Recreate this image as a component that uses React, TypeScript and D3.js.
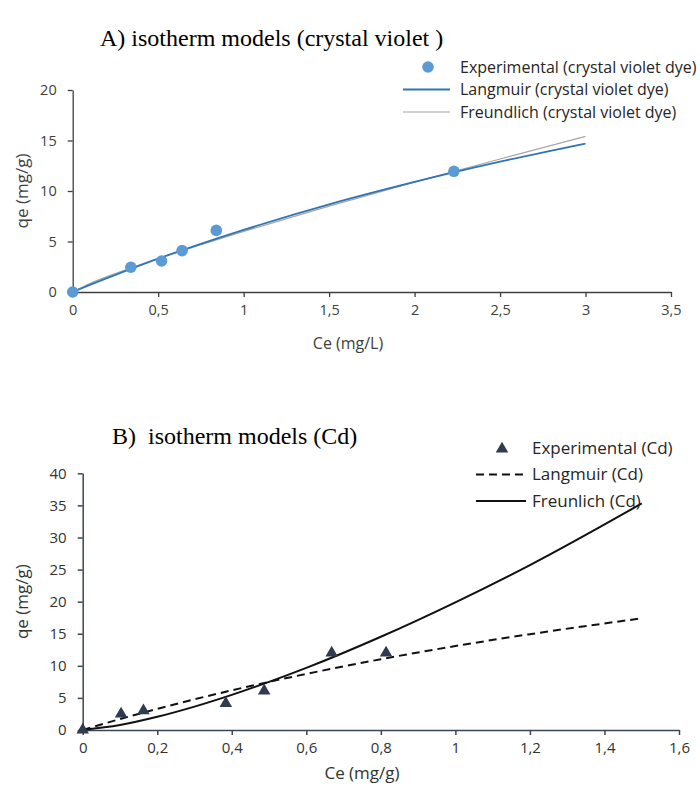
import React, { useEffect, useRef } from "react";
import * as d3 from "d3";

// A) crystal violet - experimental points
const ceA = [0, 0.34, 0.52, 0.64, 0.84, 2.23];
const qeA = [0, 2.45, 3.07, 4.1, 6.1, 11.95];
// A) model curves
const fitCeA = [0, 0.1, 0.25, 0.5, 0.75, 1, 1.5, 2, 2.5, 3];
const langmuirA = [0, 0.7, 1.7, 3.3, 4.77, 6.15, 8.68, 10.9, 12.9, 14.7];
const freundlichA = [0, 0.83, 1.83, 3.31, 4.69, 6.0, 8.5, 10.88, 13.17, 15.4];

// B) Cd - experimental points
const ceB = [0, 0.103, 0.163, 0.384, 0.487, 0.668, 0.814];
const qeB = [0, 2.5, 3.0, 4.15, 6.1, 12.0, 12.0];
// B) model curves
const fitCeB = [0, 0.1, 0.2, 0.3, 0.4, 0.5, 0.6, 0.8, 1.0, 1.2, 1.5];
const langmuirB = [0, 1.7, 3.29, 4.78, 6.18, 7.5, 8.74, 11.03, 13.08, 14.93, 17.4];
const freundlichB = [0, 0.77, 2.05, 3.64, 5.47, 7.5, 9.68, 14.53, 19.9, 25.7, 35.3];

const xTicksA = [0, 0.5, 1, 1.5, 2, 2.5, 3, 3.5];
const yTicksA = [0, 5, 10, 15, 20];
const xTicksB = [0, 0.2, 0.4, 0.6, 0.8, 1, 1.2, 1.4, 1.6];
const yTicksB = [0, 5, 10, 15, 20, 25, 30, 35, 40];

const legendA = ["Experimental  (crystal violet dye)", "Langmuir (crystal violet dye)", "Freundlich (crystal violet dye)"];
const legendB = ["Experimental (Cd)", "Langmuir (Cd)", "Freunlich (Cd)"];

const sans = "'Open Sans', 'Noto Sans', sans-serif";
const serif = "'Liberation Serif', 'Times New Roman', serif";
const comma = (d: number) => String(d).replace(".", ",");

export default function App() {
  const ref = useRef<SVGSVGElement>(null);

  useEffect(() => {
    const svg = d3.select(ref.current);
    svg.selectAll("*").remove();

    // ---------- chart A ----------
    const xA = d3.scaleLinear().domain([0, 3.5]).range([72.7, 671]);
    const yA = d3.scaleLinear().domain([0, 20]).range([292, 90]);
    const axColA = "#404040";

    svg.append("text")
      .attr("x", 100).attr("y", 46)
      .attr("font-family", serif).attr("font-size", 24)
      .attr("xml:space", "preserve").style("white-space", "pre")
      .text("A) isotherm models (crystal violet )");

    const gxA = svg.append("g").attr("transform", `translate(0,${yA(0)})`)
      .call(d3.axisBottom(xA).tickValues(xTicksA).tickFormat(comma).tickSize(5).tickSizeOuter(0).tickPadding(8));
    const gyA = svg.append("g").attr("transform", `translate(${xA(0)},0)`)
      .call(d3.axisLeft(yA).tickValues(yTicksA).tickSize(5).tickSizeOuter(0).tickPadding(11));
    [gxA, gyA].forEach(g => {
      g.selectAll("path,line").attr("stroke", axColA).attr("stroke-width", 1.3);
      g.selectAll("text").attr("font-family", sans).attr("font-size", 14.5).attr("fill", axColA);
    });

    svg.append("text")
      .attr("x", 348).attr("y", 349)
      .attr("text-anchor", "middle").attr("font-family", sans).attr("font-size", 16).attr("fill", axColA)
      .text("Ce (mg/L)");
    svg.append("text")
      .attr("transform", `translate(28,${(yA(0) + yA(20)) / 2}) rotate(-90)`)
      .attr("text-anchor", "middle").attr("font-family", sans).attr("font-size", 17).attr("fill", axColA)
      .text("qe (mg/g)");

    const lineA = (vals: number[]) =>
      d3.line<number>().x((d, i) => xA(fitCeA[i])).y(d => yA(d)).curve(d3.curveMonotoneX)(vals);

    svg.append("path").attr("d", lineA(freundlichA)).attr("fill", "none")
      .attr("stroke", "#a5a5a5").attr("stroke-width", 1.2);
    svg.append("path").attr("d", lineA(langmuirA)).attr("fill", "none")
      .attr("stroke", "#2e75b6").attr("stroke-width", 1.8);

    svg.append("g").selectAll("circle").data(ceA).enter().append("circle")
      .attr("cx", d => xA(d)).attr("cy", (d, i) => yA(qeA[i])).attr("r", 5.8)
      .attr("fill", "#5b9bd5");

    // legend A
    const lgA = svg.append("g").attr("font-family", sans).attr("font-size", 16).attr("fill", "#262626")
      .attr("xml:space", "preserve").style("white-space", "pre");
    legendA.forEach((t, i) => {
      const yy = 67 + i * 22.5;
      lgA.append("text").attr("x", 460).attr("y", yy).attr("dy", "0.35em").text(t);
    });
    lgA.append("circle").attr("cx", 428).attr("cy", 67).attr("r", 5.8).attr("fill", "#5b9bd5");
    lgA.append("line").attr("x1", 403).attr("x2", 450).attr("y1", 89.5).attr("y2", 89.5)
      .attr("stroke", "#2e75b6").attr("stroke-width", 1.8);
    lgA.append("line").attr("x1", 403).attr("x2", 450).attr("y1", 112).attr("y2", 112)
      .attr("stroke", "#a5a5a5").attr("stroke-width", 1.2);

    // ---------- chart B ----------
    const xB = d3.scaleLinear().domain([0, 1.6]).range([82.7, 679]);
    const yB = d3.scaleLinear().domain([0, 40]).range([730, 473.3]);
    const axColB = "#3a4555";

    svg.append("text")
      .attr("x", 112).attr("y", 444)
      .attr("font-family", serif).attr("font-size", 24)
      .attr("xml:space", "preserve").style("white-space", "pre")
      .text("B)  isotherm models (Cd)");

    const gxB = svg.append("g").attr("transform", `translate(0,${yB(0)})`)
      .call(d3.axisBottom(xB).tickValues(xTicksB).tickFormat(comma).tickSize(5).tickSizeOuter(0).tickPadding(7));
    const gyB = svg.append("g").attr("transform", `translate(${xB(0)},0)`)
      .call(d3.axisLeft(yB).tickValues(yTicksB).tickSize(5).tickSizeOuter(0).tickPadding(11));
    [gxB, gyB].forEach(g => {
      g.selectAll("path,line").attr("stroke", axColB).attr("stroke-width", 1.5);
      g.selectAll("text").attr("font-family", sans).attr("font-size", 15).attr("fill", "#333");
    });

    svg.append("text")
      .attr("x", 362).attr("y", 779)
      .attr("text-anchor", "middle").attr("font-family", sans).attr("font-size", 17).attr("fill", "#333")
      .text("Ce (mg/g)");
    svg.append("text")
      .attr("transform", `translate(28,${(yB(0) + yB(40)) / 2}) rotate(-90)`)
      .attr("text-anchor", "middle").attr("font-family", sans).attr("font-size", 17).attr("fill", "#333")
      .text("qe (mg/g)");

    const lineB = (vals: number[]) =>
      d3.line<number>().x((d, i) => xB(fitCeB[i])).y(d => yB(d)).curve(d3.curveMonotoneX)(vals);

    svg.append("path").attr("d", lineB(langmuirB)).attr("fill", "none")
      .attr("stroke", "#111").attr("stroke-width", 2).attr("stroke-dasharray", "8,5");
    svg.append("path").attr("d", lineB(freundlichB)).attr("fill", "none")
      .attr("stroke", "#111").attr("stroke-width", 2);

    const tri = d3.symbol().type(d3.symbolTriangle).size(68);
    svg.append("g").selectAll("path").data(ceB).enter().append("path")
      .attr("d", tri)
      .attr("transform", (d, i) => `translate(${xB(d)},${yB(qeB[i])})`)
      .attr("fill", "#2f3b4f");

    // legend B
    const lgB = svg.append("g").attr("font-family", sans).attr("font-size", 17).attr("fill", "#262626");
    legendB.forEach((t, i) => {
      const yy = 448 + i * 26.5;
      lgB.append("text").attr("x", 532).attr("y", yy).attr("dy", "0.35em").text(t);
    });
    lgB.append("path").attr("d", tri).attr("transform", "translate(502,449)").attr("fill", "#2f3b4f");
    lgB.append("line").attr("x1", 476).attr("x2", 526).attr("y1", 474.5).attr("y2", 474.5)
      .attr("stroke", "#111").attr("stroke-width", 2).attr("stroke-dasharray", "8,5");
    lgB.append("line").attr("x1", 476).attr("x2", 526).attr("y1", 501).attr("y2", 501)
      .attr("stroke", "#111").attr("stroke-width", 2);
  }, []);

  return (
    <svg ref={ref} width={700} height={794}
      style={{ position: "absolute", left: 0, top: 0, background: "#fff" }} />
  );
}
